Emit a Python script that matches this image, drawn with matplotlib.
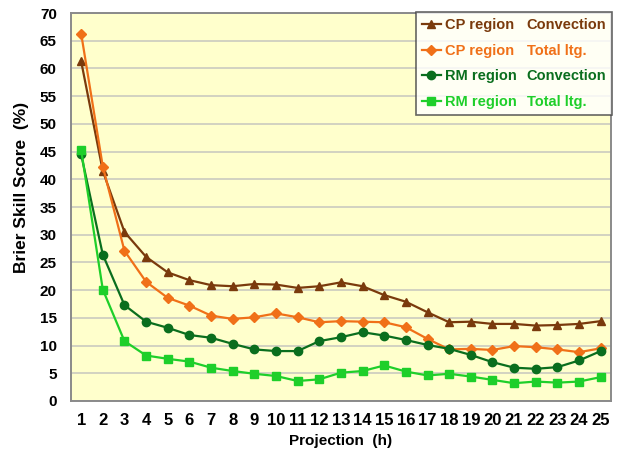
import matplotlib
matplotlib.use("Agg")
import matplotlib.pyplot as plt
from matplotlib.lines import Line2D

plt.rcParams["font.family"] = ["Liberation Sans", "DejaVu Sans"]

# Forecast projection hours
hours = list(range(1, 26))

# Brier skill score (%) for each region / predictand
cp_convection = [61.3, 41.5, 30.5, 26.0, 23.2, 21.8, 20.9, 20.7, 21.1, 21.0, 20.4, 20.7, 21.4,
                 20.7, 19.1, 17.9, 16.0, 14.2, 14.3, 13.9, 13.9, 13.6, 13.7, 13.9, 14.4]
cp_total = [66.3, 42.3, 27.1, 21.5, 18.6, 17.2, 15.4, 14.8, 15.1, 15.8, 15.1, 14.2, 14.4,
            14.3, 14.2, 13.3, 11.2, 9.3, 9.4, 9.2, 9.9, 9.7, 9.3, 8.8, 9.5]
rm_convection = [44.5, 26.4, 17.3, 14.3, 13.2, 11.9, 11.4, 10.3, 9.3, 9.0, 9.0, 10.8, 11.5,
                 12.4, 11.8, 11.0, 10.1, 9.4, 8.3, 7.0, 6.0, 5.8, 6.1, 7.3, 9.0]
rm_total = [45.3, 20.1, 10.8, 8.2, 7.6, 7.1, 6.0, 5.4, 4.9, 4.5, 3.6, 3.9, 5.1,
            5.4, 6.4, 5.3, 4.6, 4.9, 4.4, 3.8, 3.2, 3.5, 3.3, 3.5, 4.3]

regions = ["CP region", "CP region", "RM region", "RM region"]
predictands = ["Convection", "Total ltg.", "Convection", "Total ltg."]
colors = ["#7a3a0c", "#f07018", "#0a6e1e", "#1ecf2a"]
markers = ["^", "D", "o", "s"]
msizes = [6, 5, 6, 6]

fig = plt.figure(figsize=(6.18, 4.51), dpi=100)
ax = fig.add_axes([0.1145, 0.111, 0.874, 0.86])
ax.set_facecolor("#ffffcc")

handles = []
for ys, c, m, ms in zip([cp_convection, cp_total, rm_convection, rm_total],
                        colors, markers, msizes):
    h, = ax.plot(hours, ys, color=c, marker=m, markersize=ms, linewidth=1.6)
    handles.append(h)

ax.set_xlim(0.52, 25.47)
ax.set_ylim(0, 70)
ax.set_yticks(range(0, 71, 5))
ax.set_xticks(hours)
ax.grid(axis="y", color="#cfcfc0", linewidth=1.3)
ax.set_axisbelow(True)
ax.tick_params(axis="x", length=0, pad=9)
ax.tick_params(axis="y", length=0, pad=10, labelsize=11)
for t in ax.get_xticklabels():
    t.set_fontfamily(["Liberation Sans Narrow", "Liberation Sans"])
    t.set_fontsize(12)
    t.set_fontweight("bold")
for t in ax.get_yticklabels():
    t.set_fontweight("bold")
for s in ax.spines.values():
    s.set_color("#8a8a8a")
    s.set_linewidth(1.4)

ax.set_xlabel("Projection  (h)", fontsize=11, fontweight="bold", labelpad=4)
ax.set_ylabel("Brier Skill Score  (%)", fontsize=12.5, fontweight="bold")
ax.yaxis.set_label_coords(-0.078, 0.55)

# Two-column legend: region name with its line, then the predictand
blank = [Line2D([], [], linestyle="none") for _ in range(4)]
leg = ax.legend(handles + blank, regions + predictands, ncol=2,
                loc="upper right", bbox_to_anchor=(1.002, 1.002), frameon=True,
                fancybox=False, handlelength=1.3, handletextpad=0.3,
                columnspacing=-0.95, borderpad=0.4, labelspacing=0.8,
                borderaxespad=0, prop={"weight": "bold", "size": 10.5})
leg.get_frame().set_edgecolor("#404040")
leg.get_frame().set_linewidth(1.2)
for txt, c in zip(leg.get_texts(), colors + colors):
    txt.set_color(c)

fig.savefig("out.png", dpi=100)
